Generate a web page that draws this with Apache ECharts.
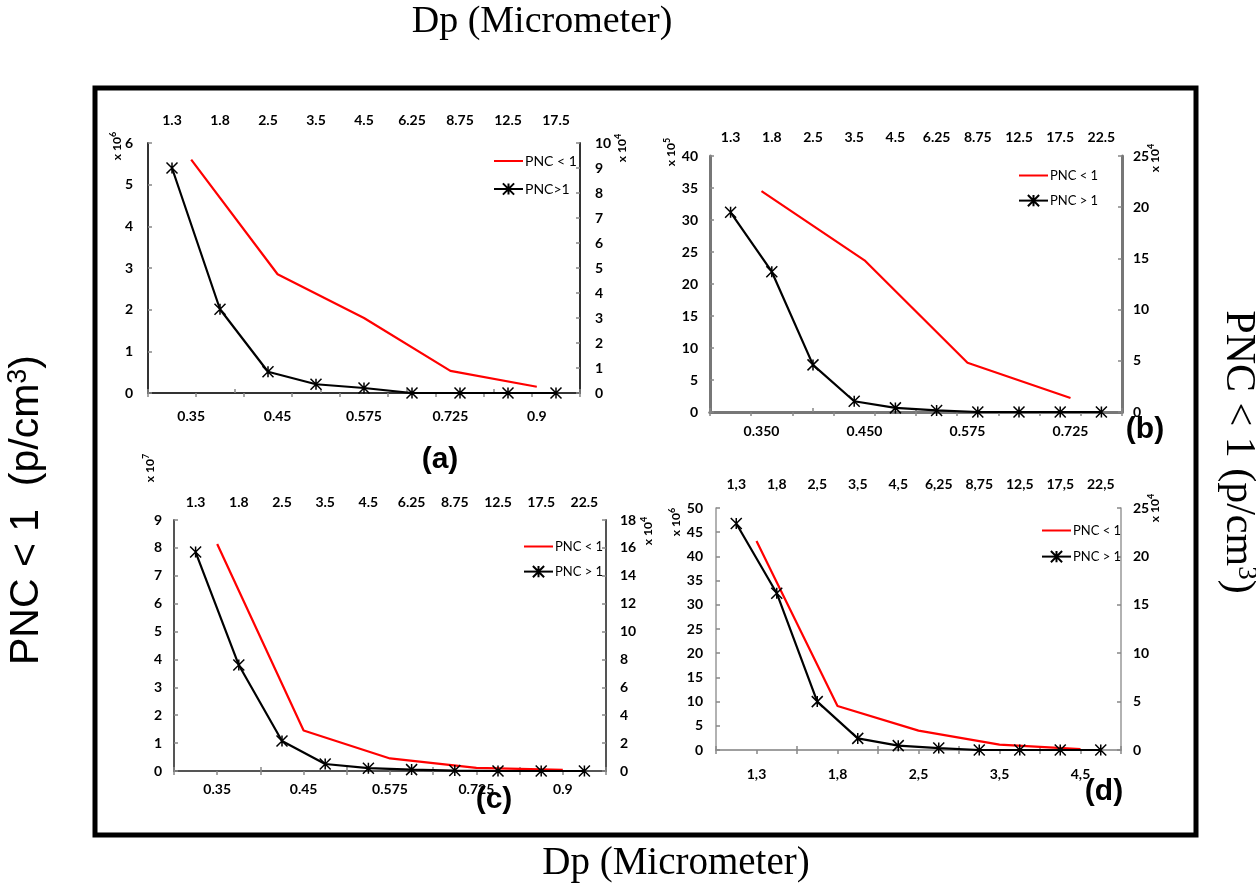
<!DOCTYPE html>
<html><head><meta charset="utf-8">
<script src="https://cdn.jsdelivr.net/npm/echarts@6/dist/echarts.min.js"></script>
<style>html,body{margin:0;padding:0;background:#fff}#c{width:1256px;height:894px}</style>
</head><body><div id="c"></div>
<script>
// ---- data ----
const topCatsA = ['1.3','1.8','2.5','3.5','4.5','6.25','8.75','12.5','17.5'];
const botCatsA = ['0.35','0.45','0.575','0.725','0.9'];
const redA = [5.6, 2.85, 1.8, 0.53, 0.15];
const blackA = [9.0, 3.35, 0.85, 0.35, 0.2, 0, 0, 0, 0];

const topCatsB = ['1.3','1.8','2.5','3.5','4.5','6.25','8.75','12.5','17.5','22.5'];
const botCatsB = ['0.350','0.450','0.575','0.725'];
const redB = [34.5, 23.7, 7.7, 2.2];
const blackB = [19.5, 13.7, 4.6, 1.05, 0.4, 0.15, 0, 0, 0, 0];

const topCatsC = ['1.3','1.8','2.5','3.5','4.5','6.25','8.75','12.5','17.5','22.5'];
const botCatsC = ['0.35','0.45','0.575','0.725','0.9'];
const redC = [8.14, 1.45, 0.45, 0.11, 0.04];
const blackC = [15.7, 7.6, 2.15, 0.5, 0.2, 0.1, 0.03, 0, 0, 0];

const topCatsD = ['1,3','1,8','2,5','3,5','4,5','6,25','8,75','12,5','17,5','22,5'];
const botCatsD = ['1,3','1,8','2,5','3,5','4,5'];
const redD = [43.2, 9.1, 4.0, 1.1, 0.2];
const blackD = [23.4, 16.2, 5.0, 1.2, 0.45, 0.2, 0, 0, 0, 0];

const leftMax = [6, 40, 9, 50], leftInt = [1, 5, 1, 5];
const rightMax = [10, 25, 18, 25], rightInt = [1, 5, 2, 5];
const blackNames = ['PNC>1', 'PNC > 1', 'PNC > 1', 'PNC > 1'];
const redName = 'PNC < 1';

// ---- layout ----
const panels = [
  {grid:{left:148, top:143, width:432, height:250}, top:topCatsA, bot:botCatsA, red:redA, black:blackA,
   axisColor:'#333', axisW:2, xm:16, ylm:15, yrm:15, leg:{left:493, top:154, fs:14, gap:14}},
  {grid:{left:710, top:156, width:412, height:256}, top:topCatsB, bot:botCatsB, red:redB, black:blackB,
   axisColor:'#777', axisW:3, xm:12, ylm:12, yrm:11, leg:{left:1018, top:169, fs:13, gap:12}},
  {grid:{left:174, top:520, width:432, height:251}, top:topCatsC, bot:botCatsC, red:redC, black:blackC,
   axisColor:'#555', axisW:2, xm:11, ylm:12, yrm:14, leg:{left:523, top:540, fs:13, gap:12}},
  {grid:{left:716, top:508, width:405, height:242}, top:topCatsD, bot:botCatsD, red:redD, black:blackD,
   axisColor:'#999', axisW:1.5, xm:17, ylm:13, yrm:12, leg:{left:1041, top:524, fs:13, gap:13}}
];

const lblFont = {fontFamily:'Lato', fontWeight:'bold', fontSize:14, color:'#000'};
const star = 'path://M0,0L10,10M10,0L0,10M5,0L5,10';

const grids = [], xAxes = [], yAxes = [], series = [], legends = [];
panels.forEach((p, i) => {
  grids.push(Object.assign({containLabel:false}, p.grid));
  const line = {show:true, lineStyle:{color:p.axisColor, width:p.axisW}};
  const tick = {show:true, inside:true, length:4, lineStyle:{color:'#888', width:1.5}};
  xAxes.push({type:'category', gridIndex:i, position:'bottom', data:p.bot, boundaryGap:true,
    axisLine:line, axisTick:tick, axisLabel:Object.assign({margin:p.xm, interval:0}, lblFont)});
  xAxes.push({type:'category', gridIndex:i, position:'top', data:p.top, boundaryGap:true,
    axisLine:line, axisTick:tick, axisLabel:Object.assign({margin:p.xm, interval:0}, lblFont)});
  yAxes.push({type:'value', gridIndex:i, position:'left', min:0, max:leftMax[i], interval:leftInt[i],
    splitLine:{show:false}, axisLine:line, axisTick:tick, axisLabel:Object.assign({margin:p.ylm}, lblFont)});
  yAxes.push({type:'value', gridIndex:i, position:'right', min:0, max:rightMax[i], interval:rightInt[i],
    splitLine:{show:false}, axisLine:line, axisTick:tick, axisLabel:Object.assign({margin:p.yrm}, lblFont)});
  series.push({type:'line', name:redName, xAxisIndex:2*i, yAxisIndex:2*i, data:p.red,
    symbol:'none', lineStyle:{color:'#ff0000', width:2.2}, itemStyle:{color:'rgba(0,0,0,0)', borderWidth:0}, z:2});
  series.push({type:'line', name:blackNames[i], xAxisIndex:2*i+1, yAxisIndex:2*i+1, data:p.black,
    symbol:star, symbolSize:11, showAllSymbol:true,
    lineStyle:{color:'#000', width:2.2}, itemStyle:{color:'#000', borderColor:'#000', borderWidth:1.5}, z:3});
  legends.push({left:p.leg.left, top:p.leg.top, orient:'vertical', itemWidth:29, itemHeight:14, itemGap:p.leg.gap,
    data:[redName, blackNames[i]], selectedMode:false, padding:0,
    textStyle:{fontFamily:'Lato', fontSize:p.leg.fs, color:'#000', padding:[0,0,0,-3]}});
});

function expo(x, y, base, pow) {
  return {type:'text', x:x, y:y, rotation:Math.PI/2, z:10,
    style:{text:'{a|' + base + '}{b|' + pow + '}', align:'center', verticalAlign:'middle',
      rich:{a:{fontFamily:'Lato', fontWeight:'bold', fontSize:12, fill:'#000'},
            b:{fontFamily:'Lato', fontWeight:'bold', fontSize:9, fill:'#000', padding:[0,0,8,0]}}}};
}
function plabel(x, y, t) {
  return {type:'text', x:x, y:y, z:10,
    style:{text:t, align:'center', verticalAlign:'middle', fontFamily:'Liberation Sans', fontWeight:'bold', fontSize:30, fill:'#000'}};
}

const graphic = [
  {type:'rect', shape:{x:95, y:88, width:1101, height:747}, style:{fill:'none', stroke:'#000', lineWidth:5}, z:1},
  {type:'text', x:542, y:22, style:{text:'Dp (Micrometer)', align:'center', verticalAlign:'middle',
    fontFamily:'Liberation Serif', fontSize:38, fill:'#000'}},
  {type:'text', x:676, y:864, style:{text:'Dp (Micrometer)', align:'center', verticalAlign:'middle',
    fontFamily:'Liberation Serif', fontSize:39, fill:'#000'}},
  {type:'text', x:27, y:510, rotation:Math.PI/2,
    style:{text:'{a|PNC < 1  (p/cm}{s|3}{a|)}', align:'center', verticalAlign:'middle',
      rich:{a:{fontFamily:'Liberation Sans', fontSize:41, fill:'#000'},
            s:{fontFamily:'Liberation Sans', fontSize:27, fill:'#000', padding:[0,0,16,0]}}}},
  {type:'text', x:1238, y:452, rotation:-Math.PI/2,
    style:{text:'{a|PNC < 1 (p/cm}{s|3}{a|)}', align:'center', verticalAlign:'middle',
      rich:{a:{fontFamily:'Liberation Serif', fontSize:42, fill:'#000'},
            s:{fontFamily:'Liberation Serif', fontSize:27, fill:'#000', padding:[0,0,16,0]}}}},
  expo(117, 146, 'x 10', '6'), expo(622, 148, 'x 10', '4'),
  expo(671, 152, 'x 10', '5'), expo(1155, 158, 'x 10', '4'),
  expo(150, 468, 'x 10', '7'), expo(648, 531, 'x 10', '4'),
  expo(676, 522, 'x 10', '6'), expo(1155, 508, 'x 10', '4'),
  plabel(440, 460, '(a)'), plabel(1145, 430, '(b)'), plabel(494, 800, '(c)'), plabel(1104, 792, '(d)')
];

const chart = echarts.init(document.getElementById('c'), null, {renderer:'canvas'});
chart.setOption({animation:false, backgroundColor:'#fff', grid:grids, xAxis:xAxes, yAxis:yAxes,
  series:series, legend:legends, graphic:graphic});
</script></body></html>
